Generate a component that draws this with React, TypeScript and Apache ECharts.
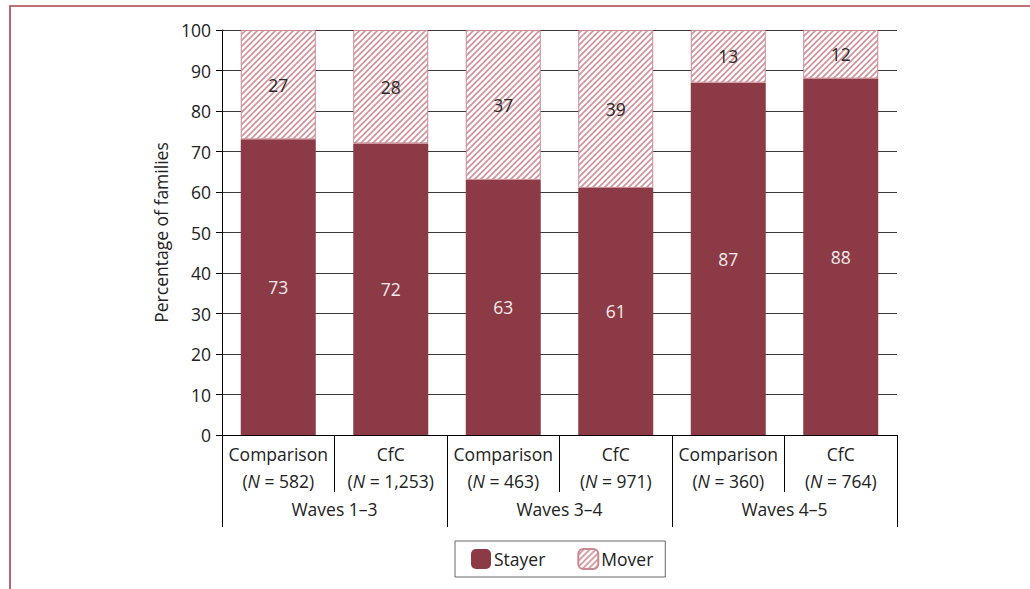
import React, { useEffect, useRef } from "react";
import * as echarts from "echarts";

const groups = ["Comparison", "CfC", "Comparison", "CfC", "Comparison", "CfC"];
const sampleSizes = ["582", "1,253", "463", "971", "360", "764"];
const waves = ["Waves 1–3", "Waves 3–4", "Waves 4–5"];
const stayer = [73, 72, 63, 61, 87, 88];
const mover = [27, 28, 37, 39, 13, 12];
const yTicks = [0, 10, 20, 30, 40, 50, 60, 70, 80, 90, 100];

const FONT = "'Open Sans', 'Noto Sans', sans-serif";
const FS = 17.5;

function makeHatch(): HTMLCanvasElement {
  const c = document.createElement("canvas");
  const s = 6;
  c.width = s;
  c.height = s;
  const ctx = c.getContext("2d")!;
  ctx.fillStyle = "#ffffff";
  ctx.fillRect(0, 0, s, s);
  ctx.strokeStyle = "#d4949c";
  ctx.lineWidth = 1.7;
  ctx.beginPath();
  ctx.moveTo(-1, s + 1);
  ctx.lineTo(s + 1, -1);
  ctx.moveTo(-1, 1);
  ctx.lineTo(1, -1);
  ctx.moveTo(s - 1, s + 1);
  ctx.lineTo(s + 1, s - 1);
  ctx.stroke();
  return c;
}

export default function App() {
  const ref = useRef<HTMLDivElement>(null);
  useEffect(() => {
    if (!ref.current) return;
    const chart = echarts.init(ref.current, null, { renderer: "svg" });
    const categories = groups.map((g, i) => g + "|" + sampleSizes[i]);
    const hatch = makeHatch();
    chart.setOption({
      animation: false,
      textStyle: { fontFamily: FONT },
      graphic: [
        {
          type: "rect",
          shape: { x: 10, y: 6, width: 1200, height: 800 },
          style: { fill: "none", stroke: "#a8414f", lineWidth: 1.6 },
          silent: true,
        },
      ],
      grid: { left: 222, right: 133, top: 30, bottom: 154, containLabel: false },
      legend: {
        left: 455,
        top: 541,
        width: 209,
        itemWidth: 20,
        itemHeight: 20,
        itemGap: 32,
        padding: [7, 12, 7, 16],
        borderColor: "#666",
        borderWidth: 1,
        textStyle: { fontSize: FS, color: "#222", fontFamily: FONT, padding: [0, 0, 0, -2] },
        data: ["Stayer", "Mover"],
      },
      xAxis: [
        {
          type: "category",
          data: categories,
          position: "bottom",
          axisLine: { show: true, lineStyle: { color: "#000", width: 1 } },
          axisTick: { show: true, length: 57, lineStyle: { color: "#000" } },
          axisLabel: {
            interval: 0,
            margin: 5,
            fontSize: FS,
            color: "#222",
            lineHeight: 27,
            formatter: (v: string) => {
              const [g, n] = v.split("|");
              return "{t|" + g + "}\n{t|(}{i|N}{t|\u00a0=\u00a0" + n + ")}";
            },
            rich: {
              t: { fontSize: FS, color: "#222", fontFamily: FONT, lineHeight: 27 },
              i: { fontSize: FS, color: "#222", fontFamily: FONT, fontStyle: "italic", lineHeight: 27 },
            },
          },
        },
        {
          type: "category",
          data: waves,
          position: "bottom",
          axisLine: { show: false },
          axisTick: { show: true, length: 92, lineStyle: { color: "#000" } },
          axisLabel: { interval: 0, margin: 65, fontSize: FS, color: "#222" },
        },
      ],
      yAxis: {
        type: "value",
        min: 0,
        max: 100,
        interval: 10,
        name: "Percentage of families",
        nameLocation: "middle",
        nameRotate: 90,
        nameGap: 42,
        nameTextStyle: { fontSize: FS, color: "#222" },
        axisLine: { show: true, lineStyle: { color: "#000" } },
        axisTick: { show: true, length: 6, lineStyle: { color: "#000" } },
        axisLabel: {
          margin: 11,
          fontSize: FS,
          color: "#222",
          formatter: (v: number) => (yTicks.includes(v) ? String(v) : ""),
        },
        splitLine: { show: true, lineStyle: { color: "#3a3a3a", width: 1 } },
      },
      series: [
        {
          name: "Stayer",
          type: "bar",
          stack: "total",
          xAxisIndex: 0,
          barWidth: 75,
          data: stayer,
          itemStyle: { color: "#8b3a46" },
          label: { show: true, position: "inside", fontSize: FS, color: "#f4eaea", fontFamily: FONT },
        },
        {
          name: "Mover",
          type: "bar",
          stack: "total",
          xAxisIndex: 0,
          barWidth: 75,
          data: mover,
          itemStyle: {
            color: { image: hatch, repeat: "repeat" },
            borderColor: "#c98a92",
            borderWidth: 1,
          },
          label: { show: true, position: "inside", fontSize: FS, color: "#2a2a2a", fontFamily: FONT },
        },
      ],
    });
    return () => chart.dispose();
  }, []);
  return (
    <div
      ref={ref}
      style={{ position: "absolute", left: 0, top: 0, width: 1030, height: 589, background: "#fff" }}
    />
  );
}
